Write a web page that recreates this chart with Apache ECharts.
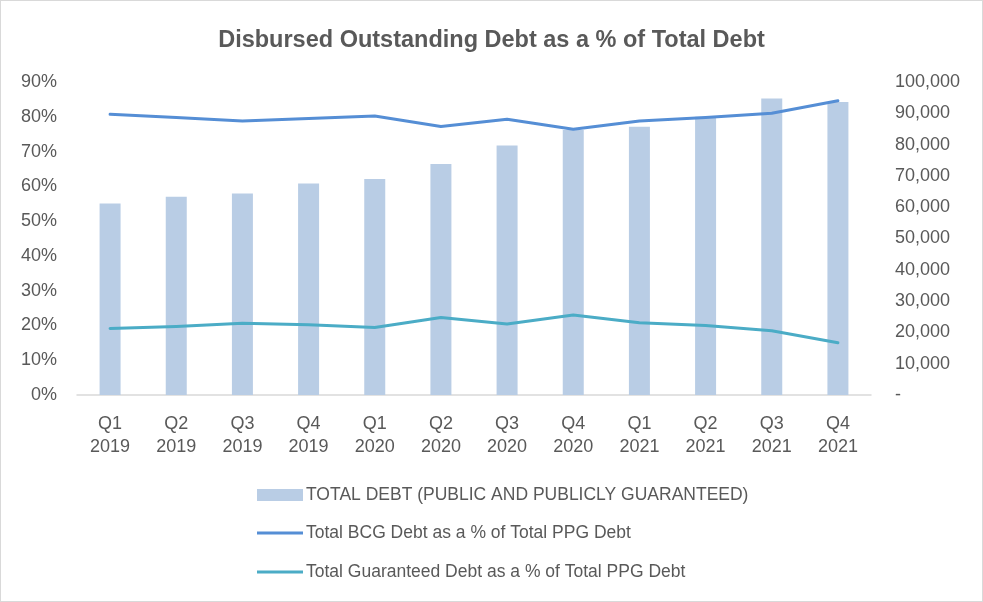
<!DOCTYPE html>
<html>
<head>
<meta charset="utf-8">
<script src="https://cdn.jsdelivr.net/npm/echarts@6/dist/echarts.min.js"></script>
<style>
  html, body { margin: 0; padding: 0; background: #fff; }
  #chart { width: 981px; height: 600px; border: 1px solid #d9d9d9; }
</style>
</head>
<body>
<div id="chart"></div>
<script>
// categories
var quarters = ["Q1\n2019", "Q2\n2019", "Q3\n2019", "Q4\n2019", "Q1\n2020", "Q2\n2020",
                "Q3\n2020", "Q4\n2020", "Q1\n2021", "Q2\n2021", "Q3\n2021", "Q4\n2021"];
// total PPG debt (right axis)
var totalDebt = [61200, 63300, 64400, 67600, 69000, 73800, 79700, 84700, 85700, 88900, 94700, 93600];
// % lines (left axis)
var bcgPct = [80.7, 79.8, 78.8, 79.5, 80.2, 77.2, 79.3, 76.4, 78.8, 79.8, 81.0, 84.6];
var guarPct = [19.1, 19.7, 20.6, 20.2, 19.4, 22.3, 20.4, 23.0, 20.8, 20.0, 18.5, 15.0];

var names = ["TOTAL DEBT (PUBLIC AND PUBLICLY GUARANTEED)",
             "Total BCG Debt as a % of Total PPG Debt",
             "Total Guaranteed Debt as a % of Total PPG Debt"];

var txt = "#595959";
var fnt = "Liberation Sans";

var chart = echarts.init(document.getElementById("chart"));

function legendRow(name, top, h) {
  return {
    data: [name], left: 251, top: top, orient: "vertical",
    itemWidth: 46, itemHeight: h, itemGap: 0, icon: "rect",
    textStyle: { color: txt, fontSize: 17.5, fontFamily: fnt, padding: [0, 0, 0, -2] }
  };
}

chart.setOption({
  animation: false,
  title: {
    text: "Disbursed Outstanding Debt as a % of Total Debt",
    left: "center", top: 23,
    textStyle: { color: txt, fontSize: 23.5, fontWeight: "bold", fontFamily: fnt }
  },
  legend: [
    legendRow(names[0], 480, 12),
    legendRow(names[1], 518, 3),
    legendRow(names[2], 557, 3)
  ],
  grid: { left: 76, right: 111, top: 81, bottom: 206 },
  xAxis: {
    type: "category", data: quarters,
    axisLine: { lineStyle: { color: "#d9d9d9", width: 1.5 } },
    axisTick: { show: false },
    axisLabel: { color: txt, fontSize: 18, fontFamily: fnt, lineHeight: 23, margin: 18 }
  },
  yAxis: [
    {
      type: "value", min: 0, max: 90, interval: 10,
      splitLine: { show: false }, axisLine: { show: false },
      axisLabel: { color: txt, fontSize: 18, fontFamily: fnt, margin: 20, formatter: "{value}%" }
    },
    {
      type: "value", min: 0, max: 100000, interval: 10000,
      splitLine: { show: false }, axisLine: { show: false },
      axisLabel: {
        color: txt, fontSize: 18, fontFamily: fnt, margin: 24,
        formatter: function (v) { return v === 0 ? "-" : v.toLocaleString("en-US"); }
      }
    }
  ],
  series: [
    {
      name: names[0], type: "bar", yAxisIndex: 1, data: totalDebt,
      barWidth: 21, itemStyle: { color: "#b9cde5" }
    },
    {
      name: names[1], type: "line", yAxisIndex: 0, data: bcgPct,
      symbol: "none", itemStyle: { color: "#558ed5" },
      lineStyle: { width: 3, color: "#558ed5", cap: "round", join: "round" }
    },
    {
      name: names[2], type: "line", yAxisIndex: 0, data: guarPct,
      symbol: "none", itemStyle: { color: "#4bacc6" },
      lineStyle: { width: 3, color: "#4bacc6", cap: "round", join: "round" }
    }
  ]
});
</script>
</body>
</html>
